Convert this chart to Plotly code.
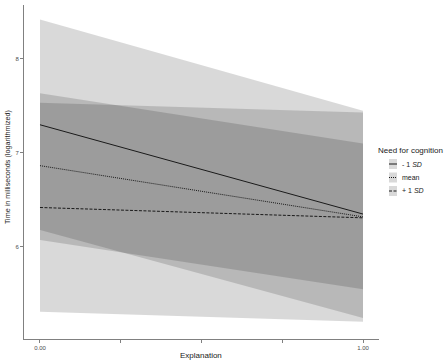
import plotly.graph_objects as go

# Data
explanation = [0.0, 1.0]
groups = ["- 1 <i>SD</i>", "mean", "+ 1 <i>SD</i>"]
fit_minus = [7.30, 6.35]
low_minus = [6.18, 5.245]
up_minus = [8.42, 7.45]
fit_mean = [6.865, 6.32]
low_mean = [6.075, 5.55]
up_mean = [7.635, 7.10]
fit_plus = [6.42, 6.31]
low_plus = [5.31, 5.205]
up_plus = [7.535, 7.43]

fits = [fit_minus, fit_mean, fit_plus]
lows = [low_minus, low_mean, low_plus]
ups = [up_minus, up_mean, up_plus]
dashes = ["solid", "1px,1px", "3px,1.5px"]

x_ticks = [0, 0.25, 0.5, 0.75, 1.0]
x_ticktext = ["0.00", "", "", "", "1.00"]
y_ticks = [6, 7, 8]

FONT = "Liberation Sans, Arial, sans-serif"
fill = "rgba(0,0,0,0.15)"

W, H = 447, 363
L, R, T, B = 24, 68, 5, 24
PW, PH = W - L - R, H - T - B


def px_x(px):
    return (px - L) / PW


def px_y(py):
    return 1 - (py - T) / PH


fig = go.Figure()
for lo, hi in zip(lows, ups):
    fig.add_trace(go.Scatter(x=explanation, y=hi, mode="lines", line=dict(width=0),
                             showlegend=False, hoverinfo="skip"))
    fig.add_trace(go.Scatter(x=explanation, y=lo, mode="lines", line=dict(width=0),
                             fill="tonexty", fillcolor=fill, showlegend=False, hoverinfo="skip"))
for f, d, g in zip(fits, dashes, groups):
    fig.add_trace(go.Scatter(x=explanation, y=f, mode="lines", name=g,
                             line=dict(color="#1a1a1a", width=1, dash=d), showlegend=False))

# manual legend (ggplot-like keys) and axis titles
shapes = []
annotations = [
    dict(xref="paper", yref="paper", x=px_x(376), y=px_y(150),
         text="Need for cognition", showarrow=False, xanchor="left", yanchor="middle",
         font=dict(family=FONT, size=8, color="#222")),
    dict(xref="paper", yref="paper", x=px_x(201), y=px_y(356),
         text="Explanation", showarrow=False, xanchor="center", yanchor="middle",
         font=dict(family=FONT, size=8, color="#222")),
    dict(xref="paper", yref="paper", x=px_x(8), y=px_y(167),
         text="Time in milliseconds (logarithmized)", showarrow=False, textangle=-90,
         xanchor="center", yanchor="middle",
         font=dict(family=FONT, size=7.2, color="#222")),
]
for i, (g, d) in enumerate(zip(groups, dashes)):
    yc = 164 + 13.5 * i
    x0, x1 = px_x(389), px_x(397)
    shapes.append(dict(type="rect", xref="paper", yref="paper", x0=x0, x1=x1,
                       y0=px_y(yc + 5), y1=px_y(yc - 5),
                       fillcolor="#d9d9d9", line=dict(width=0), layer="below"))
    shapes.append(dict(type="line", xref="paper", yref="paper", x0=x0, x1=x1,
                       y0=px_y(yc), y1=px_y(yc),
                       line=dict(color="#1a1a1a", width=1, dash=d)))
    annotations.append(dict(xref="paper", yref="paper", x=px_x(400), y=px_y(yc),
                            text=g, showarrow=False, xanchor="left", yanchor="middle",
                            font=dict(family=FONT, size=7, color="#222")))

fig.update_layout(
    width=W, height=H,
    margin=dict(l=L, r=R, t=T, b=B),
    paper_bgcolor="white", plot_bgcolor="white",
    font=dict(family=FONT, size=7, color="#4d4d4d"),
    shapes=shapes, annotations=annotations,
    showlegend=False,
    xaxis=dict(range=[-0.0495, 1.0495], tickvals=x_ticks, ticktext=x_ticktext, automargin=False,
               showgrid=False, zeroline=False, showline=True, linecolor="#808080", linewidth=1,
               ticks="outside", ticklen=3, tickcolor="#808080",
               tickfont=dict(size=6, color="#4d4d4d")),
    yaxis=dict(range=[5.021, 8.574], tickvals=y_ticks, automargin=False,
               showgrid=False, zeroline=False, showline=True, linecolor="#808080", linewidth=1,
               ticks="outside", ticklen=3, tickcolor="#808080",
               tickfont=dict(size=6, color="#4d4d4d")),
)
fig.write_html("out.html", config={"displayModeBar": False},
               post_script="document.body.style.margin='0px';")
